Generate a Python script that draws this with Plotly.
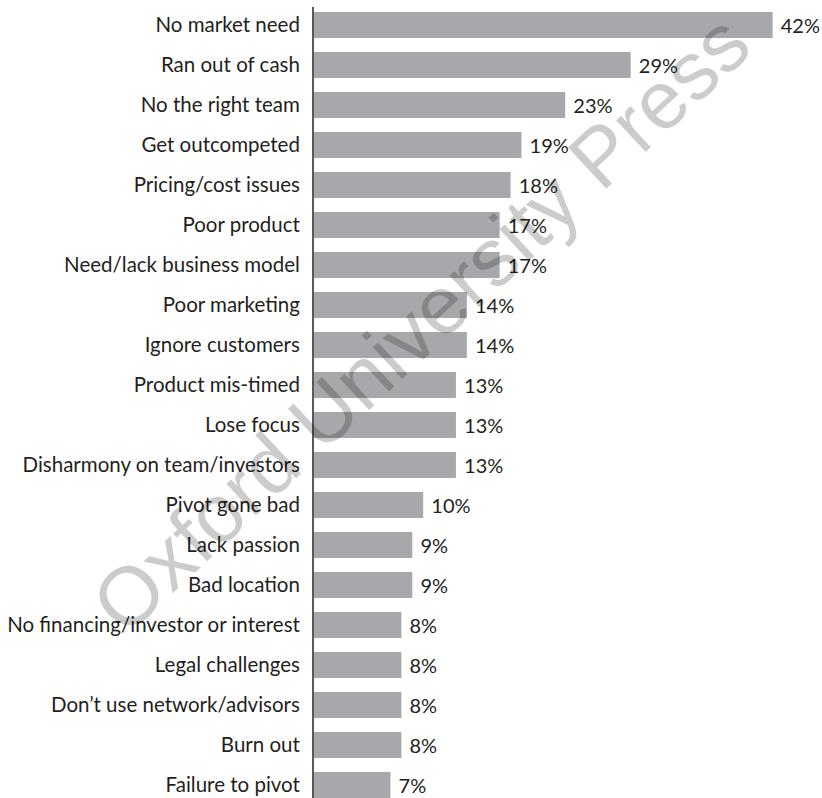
import plotly.graph_objects as go

categories = [
    "No market need", "Ran out of cash", "No the right team", "Get outcompeted",
    "Pricing/cost issues", "Poor product", "Need/lack business model", "Poor marketing",
    "Ignore customers", "Product mis-timed", "Lose focus", "Disharmony on team/investors",
    "Pivot gone bad", "Lack passion", "Bad location", "No financing/investor or interest",
    "Legal challenges", "Don\u2019t use network/advisors", "Burn out", "Failure to pivot",
]
values = [42, 29, 23, 19, 18, 17, 17, 14, 14, 13, 13, 13, 10, 9, 9, 8, 8, 8, 8, 7]
value_labels = [f"{v}%" for v in values]

FONT = "Lato"

fig = go.Figure(go.Bar(
    x=values,
    y=categories,
    orientation="h",
    marker=dict(color="#a7a8ab", line=dict(width=0)),
    text=value_labels,
    texttemplate=" %{text}",
    textposition="outside",
    cliponaxis=False,
    textfont=dict(family=FONT, size=20, color="#231f20"),
    width=0.65,
))

fig.update_layout(
    width=822, height=798,
    margin=dict(l=314, r=0, t=7, b=0),
    paper_bgcolor="white", plot_bgcolor="white",
    showlegend=False,
    bargap=0.35,
    xaxis=dict(range=[0, 46.52], visible=False, fixedrange=True),
    yaxis=dict(
        type="category",
        range=[19.325, -0.45],
        showline=True, linecolor="#58595b", linewidth=2,
        showgrid=False, zeroline=False,
        ticks="", ticklabelstandoff=8,
        tickfont=dict(family=FONT, size=20.5, color="#231f20"),
    ),
    annotations=[dict(
        text="Oxford University Press",
        x=0.209, y=0.60, xref="paper", yref="paper",
        xanchor="center", yanchor="middle",
        showarrow=False, textangle=-43,
        font=dict(family="Liberation Sans", size=82, color="rgba(0,0,0,0.2)"),
    )],
)

fig.write_html("out.html")
